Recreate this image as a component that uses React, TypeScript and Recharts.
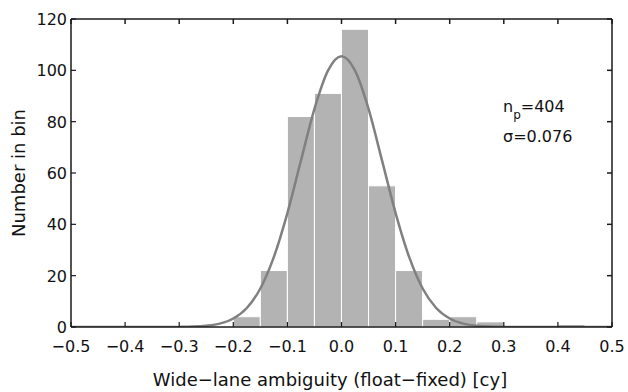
import React from "react";
import { ComposedChart, Bar, Line, XAxis, YAxis } from "recharts";

// histogram bins (centre of each 0.05 cy bin) and counts
const binCenters = [
  -0.475, -0.425, -0.375, -0.325, -0.275, -0.225, -0.175, -0.125, -0.075, -0.025,
  0.025, 0.075, 0.125, 0.175, 0.225, 0.275, 0.325, 0.375, 0.425, 0.475,
];
const binCounts = [0, 0, 0, 0, 0, 0, 4, 22, 82, 91, 116, 55, 22, 3, 4, 2, 0, 0, 1, 0];

// fitted normal curve
const fitX = [
  -0.5, -0.475, -0.45, -0.425, -0.4, -0.375, -0.35, -0.325, -0.3, -0.275, -0.25, -0.225,
  -0.2, -0.175, -0.15, -0.125, -0.1, -0.075, -0.05, -0.025, 0, 0.025, 0.05, 0.075, 0.1,
  0.125, 0.15, 0.175, 0.2, 0.225, 0.25, 0.275, 0.3, 0.325, 0.35, 0.375, 0.4, 0.425,
  0.45, 0.475, 0.5,
];
const fitY = [
  0, 0, 0, 0, 0, 0, 0, 0, 0.04, 0.15, 0.5, 1.3, 3.3, 7.4, 15, 27.3, 44.4, 64.8, 85,
  99.9, 105.5, 99.9, 85, 64.8, 44.4, 27.3, 15, 7.4, 3.3, 1.3, 0.5, 0.15, 0.04, 0, 0, 0,
  0, 0, 0, 0, 0,
];

const xTicks = [-0.5, -0.4, -0.3, -0.2, -0.1, 0, 0.1, 0.2, 0.3, 0.4, 0.5];
const yTicks = [0, 20, 40, 60, 80, 100, 120];

const bins = binCenters.map((x, i) => ({ x, count: binCounts[i] }));
const fit = fitX.map((x, i) => ({ x, fit: fitY[i] }));

const FONT = "'DejaVu Sans', sans-serif";
const AXIS = "#1a1a1a";
const TICK = 5;
const fmtX = (v: number) => v.toFixed(1).replace("-", "\u2212");
const blank = () => "";

// MATLAB-style ticks pointing into the box, labels outside
const BottomTick = (p: any) => (
  <g>
    <line x1={p.x} x2={p.x} y1={p.y - 13} y2={p.y - 13 - TICK} stroke={AXIS} strokeWidth={1.2} />
    <text x={p.x} y={p.y} dy={12} textAnchor="middle" fontSize={16} fontFamily={FONT} fill="#111">
      {fmtX(p.payload.value)}
    </text>
  </g>
);
const LeftTick = (p: any) => (
  <g>
    <line x1={p.x + 4} x2={p.x + 4 + TICK} y1={p.y} y2={p.y} stroke={AXIS} strokeWidth={1.2} />
    <text x={p.x} y={p.y} dy={6} textAnchor="end" fontSize={16} fontFamily={FONT} fill="#111">
      {p.payload.value}
    </text>
  </g>
);

export default function App() {
  return (
    <div style={{ position: "absolute", left: 0, top: 0, fontFamily: FONT }}>
      <ComposedChart
        width={628}
        height={392}
        data={bins}
        margin={{ top: 19, right: 16, bottom: 0, left: 0 }}
      >
        <XAxis
          dataKey="x"
          type="number"
          domain={[-0.5, 0.5]}
          ticks={xTicks}
          height={65}
          tickSize={0}
          tickMargin={13}
          tickLine={false}
          tick={<BottomTick />}
          stroke={AXIS}
          strokeWidth={1.5}
          allowDataOverflow
        />
        <XAxis
          xAxisId="top"
          dataKey="x"
          type="number"
          orientation="top"
          domain={[-0.5, 0.5]}
          ticks={xTicks}
          tickFormatter={blank}
          height={1}
          mirror
          tickSize={TICK}
          stroke={AXIS}
          strokeWidth={1.5}
          allowDataOverflow
        />
        <YAxis
          type="number"
          domain={[0, 120]}
          ticks={yTicks}
          width={71}
          tickSize={0}
          tickMargin={4}
          tickLine={false}
          tick={<LeftTick />}
          stroke={AXIS}
          strokeWidth={1.5}
          allowDataOverflow
        />
        <YAxis
          yAxisId="right"
          type="number"
          orientation="right"
          domain={[0, 120]}
          ticks={yTicks}
          tickFormatter={blank}
          width={1}
          mirror
          tickSize={TICK}
          stroke={AXIS}
          strokeWidth={1.5}
          allowDataOverflow
        />
        <Bar
          dataKey="count"
          yAxisId="right"
          fill="#b3b3b3"
          stroke="#ffffff"
          strokeWidth={1}
          barSize={27}
          isAnimationActive={false}
        />
        <Line
          data={fit}
          xAxisId="top"
          dataKey="fit"
          type="monotone"
          stroke="#808080"
          strokeWidth={2.5}
          dot={false}
          activeDot={false}
          isAnimationActive={false}
        />
        <text x={330} y={386} textAnchor="middle" fontSize={18} fontFamily={FONT} fill="#111">
          Wide{"\u2212"}lane ambiguity (float{"\u2212"}fixed) [cy]
        </text>
        <text
          x={25}
          y={173}
          textAnchor="middle"
          fontSize={18}
          fontFamily={FONT}
          fill="#111"
          transform="rotate(-90, 25, 173)"
        >
          Number in bin
        </text>
        <text x={503} y={112} fontSize={16} fontFamily={FONT} fill="#111">
          n
          <tspan fontSize={12} dy={7}>p</tspan>
          <tspan dy={-7}>=404</tspan>
        </text>
        <text x={503} y={142} fontSize={16} fontFamily={FONT} fill="#111">
          {"\u03c3"}=0.076
        </text>
      </ComposedChart>
    </div>
  );
}
